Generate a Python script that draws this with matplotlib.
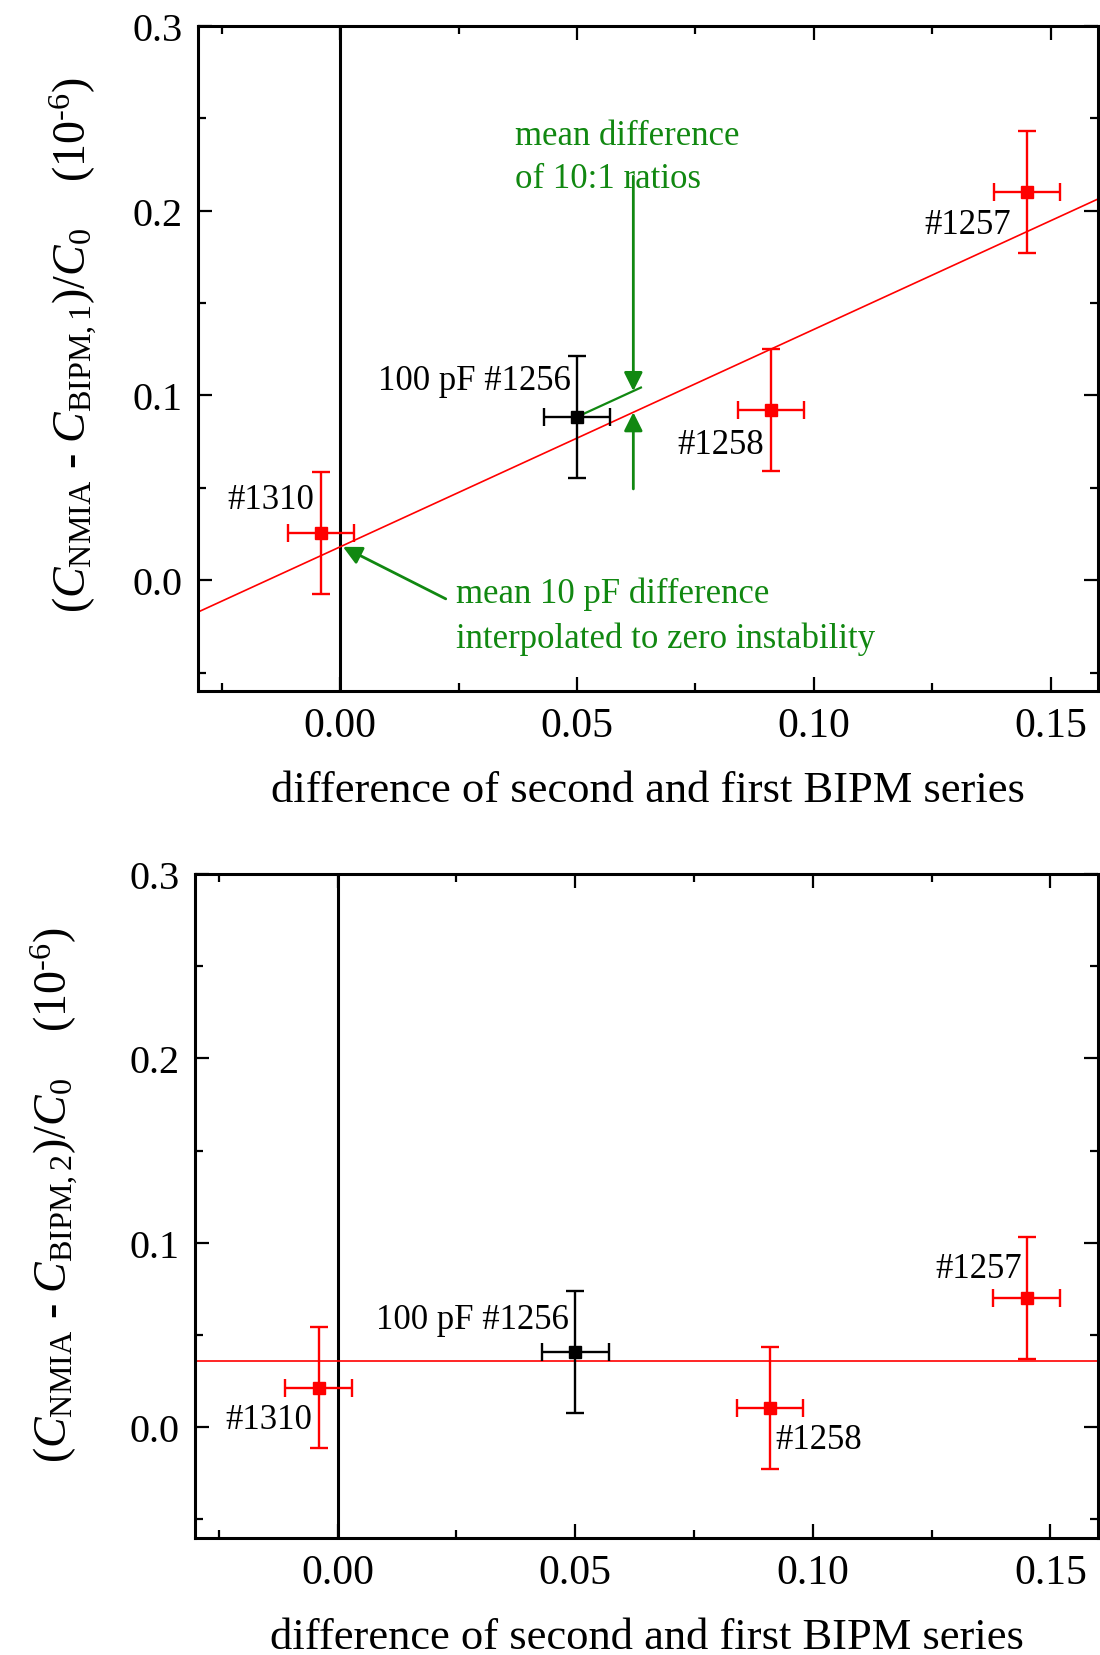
import numpy as np
import matplotlib
matplotlib.use("Agg")
import matplotlib.pyplot as plt
from matplotlib.ticker import MultipleLocator, FormatStrFormatter

plt.rcParams['font.family'] = ['Liberation Serif', 'DejaVu Serif']
plt.rcParams['mathtext.fontset'] = 'custom'
plt.rcParams['mathtext.rm'] = 'Liberation Serif'
plt.rcParams['mathtext.it'] = 'Liberation Serif:italic'
plt.rcParams['mathtext.bf'] = 'Liberation Serif:bold'

# instability of the 10 pF standards (x), shared by both panels
names = ['#1310', '#1258', '#1257']
x_red = [-0.004, 0.091, 0.145]
x_red_err = [0.007, 0.007, 0.007]
x_black = [0.050]
x_black_err = [0.007]

# top panel: (C_NMIA - C_BIPM,1)/C0
y1_red = [0.0254, 0.0919, 0.2099]
y1_black = [0.0884]
# bottom panel: (C_NMIA - C_BIPM,2)/C0
y2_red = [0.0215, 0.0106, 0.0699]
y2_black = [0.0408]
y_err = [0.033, 0.033, 0.033]
y_black_err = [0.033]

RED = '#ff0000'
GREEN = '#118811'

fig = plt.figure(figsize=(11, 16.56), dpi=100)
ax1 = fig.add_axes([0.18, 0.5821, 0.8182, 0.4016])
ax2 = fig.add_axes([0.1773, 0.0707, 0.8209, 0.4010])


def style(ax, ylabel, lab_x, lab_y):
    ax.set_xlim(-0.03, 0.16)
    ax.set_ylim(-0.06, 0.3)
    ax.xaxis.set_major_locator(MultipleLocator(0.05))
    ax.xaxis.set_minor_locator(MultipleLocator(0.025))
    ax.yaxis.set_major_locator(MultipleLocator(0.1))
    ax.yaxis.set_minor_locator(MultipleLocator(0.05))
    ax.xaxis.set_major_formatter(FormatStrFormatter('%.2f'))
    ax.yaxis.set_major_formatter(FormatStrFormatter('%.1f'))
    ax.tick_params(which='both', direction='in', top=True, right=True, width=1.6)
    ax.tick_params(which='major', length=10)
    ax.tick_params(which='minor', length=5.8)
    ax.tick_params(axis='x', labelsize=30, pad=11)
    ax.tick_params(axis='y', labelsize=29, pad=11)
    for s in ax.spines.values():
        s.set_linewidth(2.2)
    ax.axvline(0, color='black', lw=2.2, zorder=1)
    ax.set_xlabel('difference of second and first BIPM series', fontsize=32, labelpad=18)
    ax.set_ylabel(ylabel, fontsize=33)
    ax.yaxis.label.set_va('center')
    ax.yaxis.set_label_coords(lab_x, lab_y)


def points(ax, yr, yb):
    ax.errorbar(x_red, yr, xerr=x_red_err, yerr=y_err, fmt='s', color=RED,
                ms=9, capsize=6.5, elinewidth=1.7, capthick=1.7, zorder=4)
    ax.errorbar(x_black, yb, xerr=x_black_err, yerr=y_black_err, fmt='s', color='black',
                ms=9, capsize=6.5, elinewidth=1.7, capthick=1.7, zorder=4)


HY = '\u2010'
style(ax1, r'$(C_{\mathrm{NMIA}}$ ' + HY + r' $C_{\mathrm{BIPM,1}})/C_0$    (10$^{\mathrm{' + HY + r'6}}$)',
      -0.138, 0.522)
style(ax2, r'$(C_{\mathrm{NMIA}}$ ' + HY + r' $C_{\mathrm{BIPM,2}})/C_0$    (10$^{\mathrm{' + HY + r'6}}$)',
      -0.155, 0.518)

# top: straight line fit through the 10 pF points
slope, icpt = np.polyfit(x_red, y1_red, 1)
xx = np.array([-0.03, 0.16])
ax1.plot(xx, icpt + slope * xx, color=RED, lw=1.2, zorder=2)
points(ax1, y1_red, y1_black)

# parallel line through the 100 pF point and arrows for the 10:1 ratio difference
x_arrow = 0.0619
ax1.plot([x_black[0], x_arrow + 0.0016], [y1_black[0], y1_black[0] + slope * (x_arrow + 0.0016 - x_black[0])],
         color=GREEN, lw=1.6, zorder=3)
arw = dict(arrowstyle='-|>', color=GREEN, lw=2, mutation_scale=28, shrinkA=0, shrinkB=0)
ax1.annotate('', xy=(x_arrow, y1_black[0] + slope * (x_arrow - x_black[0])), xytext=(x_arrow, 0.2187),
             arrowprops=arw)
ax1.annotate('', xy=(x_arrow, icpt + slope * x_arrow), xytext=(x_arrow, 0.0494), arrowprops=arw)
ax1.annotate('', xy=(0.0006, icpt), xytext=(0.0223, -0.0101), arrowprops=arw)

ax1.text(0.0370, 0.2291, 'mean difference\nof 10:1 ratios', color=GREEN, fontsize=25,
         ha='left', va='center', linespacing=1.42)
ax1.text(0.0245, -0.0192, 'mean 10 pF difference\ninterpolated to zero instability', color=GREEN,
         fontsize=25, ha='left', va='center', linespacing=1.42)

ax1.text(-0.0055, 0.0439, names[0], fontsize=25, ha='right', va='center')
ax1.text(0.0488, 0.1080, '100 pF #1256', fontsize=25, ha='right', va='center')
ax1.text(0.0896, 0.0735, names[1], fontsize=25, ha='right', va='center')
ax1.text(0.1416, 0.1927, names[2], fontsize=25, ha='right', va='center')

# bottom: mean of the second BIPM series differences
mean2 = np.mean(y2_red + y2_black)
ax2.axhline(mean2, color=RED, lw=1.2, zorder=2)
points(ax2, y2_red, y2_black)

ax2.text(-0.0054, 0.0043, names[0], fontsize=25, ha='right', va='center')
ax2.text(0.0487, 0.0585, '100 pF #1256', fontsize=25, ha='right', va='center')
ax2.text(0.0922, -0.0065, names[1], fontsize=25, ha='left', va='center')
ax2.text(0.1439, 0.0859, names[2], fontsize=25, ha='right', va='center')

fig.savefig('out.png', dpi=100)
